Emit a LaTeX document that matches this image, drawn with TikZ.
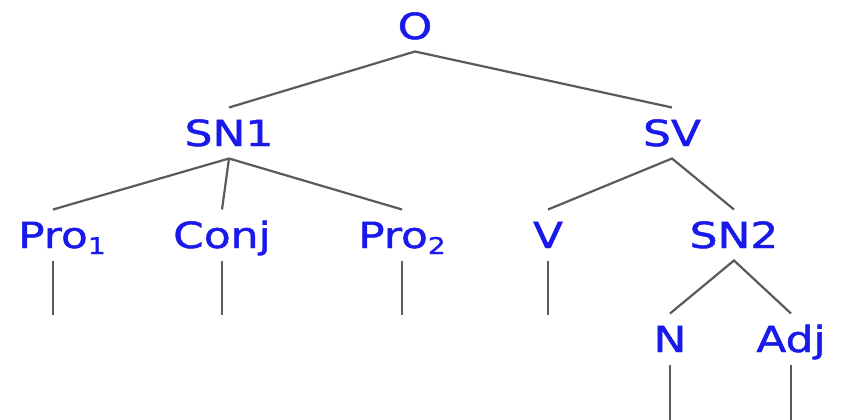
\documentclass[tikz,border=0pt]{standalone}
\usepackage{fontspec}
\setmainfont[FakeStretch=1.22, FakeBold=1.3]{DejaVu Sans}
\usepackage{tikz}
\definecolor{catblue}{RGB}{25,25,235}
\definecolor{branchgray}{RGB}{90,90,90}
\tikzstyle{cat} = [anchor=base, inner sep=0pt, outer sep=12.5pt, text height=26pt, text depth=0pt, text=catblue, font=\fontsize{36}{40}\selectfont]
\tikzstyle{branch} = [draw=branchgray, line width=2.2pt]
\newcommand{\catidx}[1]{\raisebox{-6pt}{\fontsize{23}{23}\selectfont #1}}

\begin{document}
\begin{tikzpicture}[x=1pt, y=-1pt]
\useasboundingbox (0,0) rectangle (843,420);

\node (o) [cat] at (415,39) {O};
\node (sn1) [cat] at (229,146) {SN1};
\node (sv) [cat] at (672,146) {SV};

\node (pro1) [cat] at (53,248) {Pro\rlap{\catidx{1}}};
\node (conj) [cat] at (222,248) {Conj};
\node (pro2) [cat] at (402,248) {Pro\catidx{2}};
\node (v) [cat] at (548,248) {V};
\node (sn2) [cat] at (734,248) {SN2};

\node (n) [cat] at (670,352) {N};
\node (adj) [cat] at (791,352) {Adj};

% leaf ends
\coordinate (pro1end) at (pro1.south |- 0,315);
\coordinate (conjend) at (conj.south |- 0,315);
\coordinate (pro2end) at (pro2.south |- 0,315);
\coordinate (vend) at (v.south |- 0,315);
\coordinate (nend) at (n.south |- 0,420);
\coordinate (adjend) at (adj.south |- 0,420);

\draw [branch] (sn1.north) -- (o.south) -- (sv.north);
\draw [branch] (pro1.north) -- (sn1.south) -- (pro2.north);
\draw [branch] (sn1.south) -- (conj.north);
\draw [branch] (v.north) -- (sv.south) -- (sn2.north);
\draw [branch] (n.north) -- (sn2.south) -- (adj.north);

\draw [branch] (pro1.south) -- (pro1end);
\draw [branch] (conj.south) -- (conjend);
\draw [branch] (pro2.south) -- (pro2end);
\draw [branch] (v.south) -- (vend);
\draw [branch] (n.south) -- (nend);
\draw [branch] (adj.south) -- (adjend);
\end{tikzpicture}
\end{document}
